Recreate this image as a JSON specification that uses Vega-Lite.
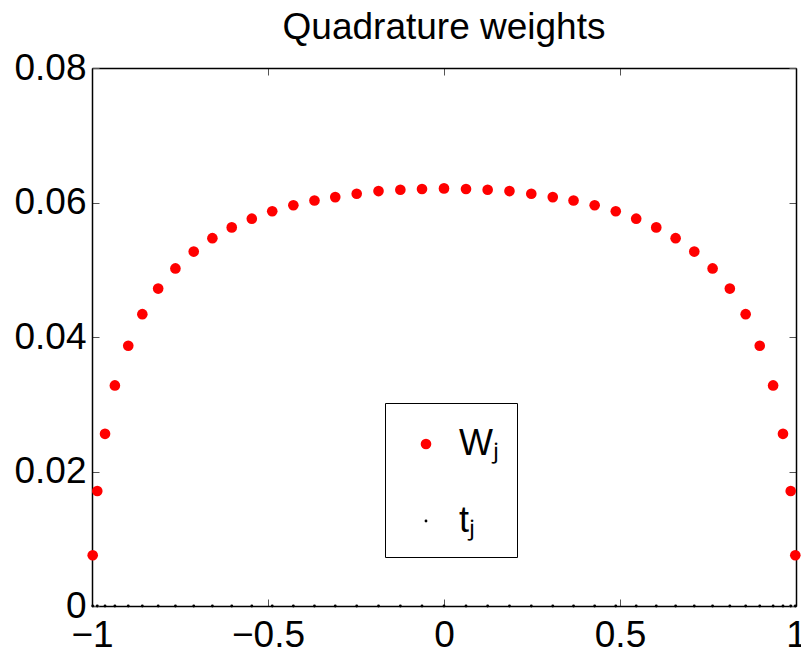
{
  "$schema": "https://vega.github.io/schema/vega-lite/v6.json",
  "autosize": "none",
  "width": 704,
  "height": 538,
  "padding": {"left": 92, "top": 68, "right": 5, "bottom": 46},
  "background": "white",
  "title": {"text": "Quadrature weights", "fontSize": 37, "font": "Liberation Sans", "fontWeight": "normal", "color": "black", "anchor": "middle", "frame": "group", "offset": 2},
  "config": {
    "view": {"stroke": null},
    "axis": {
      "domain": true, "domainColor": "black", "domainWidth": 1.5,
      "ticks": true, "tickSize": -7, "tickColor": "#555", "tickWidth": 1,
      "grid": false,
      "labelFont": "Liberation Sans", "labelFontSize": 37, "labelColor": "black",
      "title": null
    }
  },
  "data": {"values": [
    {"t": -0.998, "value": 0.00754, "series": "Wⱼ"},
    {"t": -0.985, "value": 0.0171, "series": "Wⱼ"},
    {"t": -0.963, "value": 0.0256, "series": "Wⱼ"},
    {"t": -0.935, "value": 0.0328, "series": "Wⱼ"},
    {"t": -0.897, "value": 0.0387, "series": "Wⱼ"},
    {"t": -0.857, "value": 0.0434, "series": "Wⱼ"},
    {"t": -0.812, "value": 0.0472, "series": "Wⱼ"},
    {"t": -0.763, "value": 0.0502, "series": "Wⱼ"},
    {"t": -0.711, "value": 0.0527, "series": "Wⱼ"},
    {"t": -0.658, "value": 0.0547, "series": "Wⱼ"},
    {"t": -0.603, "value": 0.0563, "series": "Wⱼ"},
    {"t": -0.546, "value": 0.0576, "series": "Wⱼ"},
    {"t": -0.488, "value": 0.0587, "series": "Wⱼ"},
    {"t": -0.428, "value": 0.0596, "series": "Wⱼ"},
    {"t": -0.368, "value": 0.0603, "series": "Wⱼ"},
    {"t": -0.309, "value": 0.0608, "series": "Wⱼ"},
    {"t": -0.248, "value": 0.0613, "series": "Wⱼ"},
    {"t": -0.186, "value": 0.0617, "series": "Wⱼ"},
    {"t": -0.124, "value": 0.0619, "series": "Wⱼ"},
    {"t": -0.0625, "value": 0.0620, "series": "Wⱼ"},
    {"t": 0, "value": 0.0621, "series": "Wⱼ"},
    {"t": 0.0625, "value": 0.0620, "series": "Wⱼ"},
    {"t": 0.124, "value": 0.0619, "series": "Wⱼ"},
    {"t": 0.186, "value": 0.0617, "series": "Wⱼ"},
    {"t": 0.248, "value": 0.0613, "series": "Wⱼ"},
    {"t": 0.309, "value": 0.0608, "series": "Wⱼ"},
    {"t": 0.368, "value": 0.0603, "series": "Wⱼ"},
    {"t": 0.428, "value": 0.0596, "series": "Wⱼ"},
    {"t": 0.488, "value": 0.0587, "series": "Wⱼ"},
    {"t": 0.546, "value": 0.0576, "series": "Wⱼ"},
    {"t": 0.603, "value": 0.0563, "series": "Wⱼ"},
    {"t": 0.658, "value": 0.0547, "series": "Wⱼ"},
    {"t": 0.711, "value": 0.0527, "series": "Wⱼ"},
    {"t": 0.763, "value": 0.0502, "series": "Wⱼ"},
    {"t": 0.812, "value": 0.0472, "series": "Wⱼ"},
    {"t": 0.857, "value": 0.0434, "series": "Wⱼ"},
    {"t": 0.897, "value": 0.0387, "series": "Wⱼ"},
    {"t": 0.935, "value": 0.0328, "series": "Wⱼ"},
    {"t": 0.963, "value": 0.0256, "series": "Wⱼ"},
    {"t": 0.985, "value": 0.0171, "series": "Wⱼ"},
    {"t": 0.998, "value": 0.00754, "series": "Wⱼ"},
    {"t": -0.998, "value": 0, "series": "tⱼ"},
    {"t": -0.985, "value": 0, "series": "tⱼ"},
    {"t": -0.963, "value": 0, "series": "tⱼ"},
    {"t": -0.935, "value": 0, "series": "tⱼ"},
    {"t": -0.897, "value": 0, "series": "tⱼ"},
    {"t": -0.857, "value": 0, "series": "tⱼ"},
    {"t": -0.812, "value": 0, "series": "tⱼ"},
    {"t": -0.763, "value": 0, "series": "tⱼ"},
    {"t": -0.711, "value": 0, "series": "tⱼ"},
    {"t": -0.658, "value": 0, "series": "tⱼ"},
    {"t": -0.603, "value": 0, "series": "tⱼ"},
    {"t": -0.546, "value": 0, "series": "tⱼ"},
    {"t": -0.488, "value": 0, "series": "tⱼ"},
    {"t": -0.428, "value": 0, "series": "tⱼ"},
    {"t": -0.368, "value": 0, "series": "tⱼ"},
    {"t": -0.309, "value": 0, "series": "tⱼ"},
    {"t": -0.248, "value": 0, "series": "tⱼ"},
    {"t": -0.186, "value": 0, "series": "tⱼ"},
    {"t": -0.124, "value": 0, "series": "tⱼ"},
    {"t": -0.0625, "value": 0, "series": "tⱼ"},
    {"t": 0, "value": 0, "series": "tⱼ"},
    {"t": 0.0625, "value": 0, "series": "tⱼ"},
    {"t": 0.124, "value": 0, "series": "tⱼ"},
    {"t": 0.186, "value": 0, "series": "tⱼ"},
    {"t": 0.248, "value": 0, "series": "tⱼ"},
    {"t": 0.309, "value": 0, "series": "tⱼ"},
    {"t": 0.368, "value": 0, "series": "tⱼ"},
    {"t": 0.428, "value": 0, "series": "tⱼ"},
    {"t": 0.488, "value": 0, "series": "tⱼ"},
    {"t": 0.546, "value": 0, "series": "tⱼ"},
    {"t": 0.603, "value": 0, "series": "tⱼ"},
    {"t": 0.658, "value": 0, "series": "tⱼ"},
    {"t": 0.711, "value": 0, "series": "tⱼ"},
    {"t": 0.763, "value": 0, "series": "tⱼ"},
    {"t": 0.812, "value": 0, "series": "tⱼ"},
    {"t": 0.857, "value": 0, "series": "tⱼ"},
    {"t": 0.897, "value": 0, "series": "tⱼ"},
    {"t": 0.935, "value": 0, "series": "tⱼ"},
    {"t": 0.963, "value": 0, "series": "tⱼ"},
    {"t": 0.985, "value": 0, "series": "tⱼ"},
    {"t": 0.998, "value": 0, "series": "tⱼ"}
  ]},
  "resolve": {"axis": {"x": "independent", "y": "independent"}},
  "layer": [
    {
      "transform": [{"filter": "datum.series === 'Wⱼ'"}],
      "mark": {"type": "point", "filled": true, "opacity": 1, "strokeWidth": 0},
      "encoding": {
        "x": {"field": "t", "type": "quantitative", "scale": {"domain": [-1, 1], "nice": false, "zero": false},
              "axis": {"orient": "bottom", "values": [-1, -0.5, 0, 0.5, 1], "format": "~g", "labelPadding": 18, "labelFlush": false, "labelOverlap": false}},
        "y": {"field": "value", "type": "quantitative", "scale": {"domain": [0, 0.08], "nice": false},
              "axis": {"orient": "left", "values": [0, 0.02, 0.04, 0.06, 0.08], "labelPadding": 13, "labelFlush": false, "labelOverlap": false,
                       "labelExpr": "datum.value == 0 ? '0' : format(datum.value, '.2f')"}},
        "color": {"field": "series", "type": "nominal", "scale": {"domain": ["Wⱼ", "tⱼ"], "range": ["#ff0000", "#000000"]},
                  "legend": {"title": " ", "titleFontSize": 1, "titlePadding": 4, "orient": "none", "legendX": 293, "legendY": 335,
                             "strokeColor": "black", "fillColor": "white", "padding": 18, "cornerRadius": 0,
                             "labelFont": "Liberation Sans", "labelFontSize": 36, "labelColor": "black",
                             "symbolType": "circle", "symbolStrokeWidth": 0, "symbolOffset": 5,
                             "labelOffset": 15, "rowPadding": 41}},
        "size": {"field": "series", "type": "nominal", "scale": {"domain": ["Wⱼ", "tⱼ"], "range": [113, 8]},
                 "legend": {"title": " "}}
      }
    },
    {
      "transform": [{"filter": "datum.series === 'tⱼ'"}],
      "mark": {"type": "point", "filled": true, "opacity": 1, "strokeWidth": 0},
      "encoding": {
        "x": {"field": "t", "type": "quantitative", "scale": {"domain": [-1, 1], "nice": false, "zero": false},
              "axis": {"orient": "top", "values": [-1, -0.5, 0, 0.5, 1], "labels": false}},
        "y": {"field": "value", "type": "quantitative", "scale": {"domain": [0, 0.08], "nice": false},
              "axis": {"orient": "right", "values": [0, 0.02, 0.04, 0.06, 0.08], "labels": false}},
        "color": {"field": "series", "type": "nominal"},
        "size": {"field": "series", "type": "nominal"}
      }
    }
  ]
}
